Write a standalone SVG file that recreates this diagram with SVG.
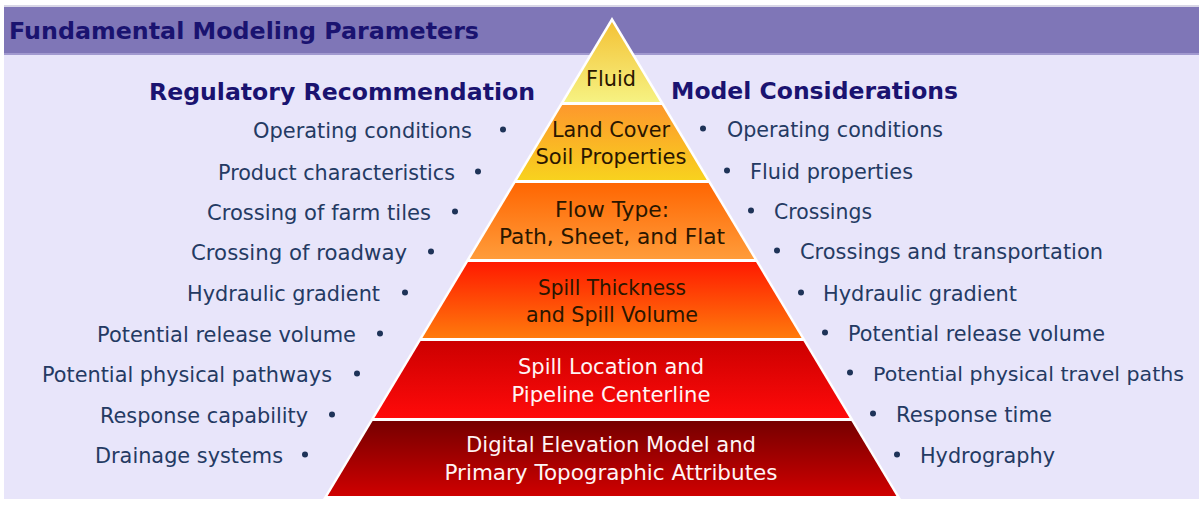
<svg xmlns="http://www.w3.org/2000/svg" width="1199" height="509" viewBox="0 0 1199 509">
<style>
.title{font-family:"DejaVu Sans","Liberation Sans",sans-serif;font-weight:bold;font-size:23px;fill:#1a1370}
.hdr{font-family:"DejaVu Sans","Liberation Sans",sans-serif;font-weight:bold;font-size:23px;fill:#1a1370}
.item{font-family:"DejaVu Sans","Liberation Sans",sans-serif;font-size:22px;fill:#243a63}
.bul{fill:#1e3358}
.pt{font-family:"DejaVu Sans","Liberation Sans",sans-serif;font-size:21px;text-anchor:middle}
.dark{fill:#2a1600}
.light{fill:#fff4f4}
</style>
<defs>
<linearGradient id="g1" x1="0" y1="0" x2="0" y2="1"><stop offset="0" stop-color="#f4c236"/><stop offset="1" stop-color="#f6f282"/></linearGradient>
<linearGradient id="g2" x1="0" y1="0" x2="0" y2="1"><stop offset="0" stop-color="#fd982c"/><stop offset="1" stop-color="#f8d21e"/></linearGradient>
<linearGradient id="g3" x1="0" y1="0" x2="0" y2="1"><stop offset="0" stop-color="#ff6602"/><stop offset="1" stop-color="#ff9c3a"/></linearGradient>
<linearGradient id="g4" x1="0" y1="0" x2="0" y2="1"><stop offset="0" stop-color="#ff1a00"/><stop offset="1" stop-color="#ff7a0c"/></linearGradient>
<linearGradient id="g5" x1="0" y1="0" x2="0" y2="1"><stop offset="0" stop-color="#cc0000"/><stop offset="1" stop-color="#ff0a0a"/></linearGradient>
<linearGradient id="g6" x1="0" y1="0" x2="0" y2="1"><stop offset="0" stop-color="#760000"/><stop offset="1" stop-color="#cf0000"/></linearGradient>
</defs>
<rect x="0" y="0" width="1199" height="509" fill="#ffffff"/>
<rect x="4" y="5" width="1195" height="494" fill="#e8e5fa"/>
<rect x="4" y="5" width="1195" height="2" fill="#d8d6e6"/>
<rect x="4" y="7" width="1195" height="46" fill="#7f76b7"/>
<rect x="4" y="53" width="1195" height="2" fill="#a199cf"/>
<g id="title"><text class="title" x="9" y="39" textLength="470" lengthAdjust="spacingAndGlyphs">Fundamental Modeling Parameters</text></g>

<g id="pyramid">
<polygon points="612,17 323,499 901,499" fill="#ffffff"/>
<g id="layer-fluid"><polygon points="612,22 564,102 660,102" fill="url(#g1)"/><text class="pt dark" x="611" y="86" textLength="50" lengthAdjust="spacingAndGlyphs">Fluid</text></g>
<g id="layer-land"><polygon points="562.2,105 661.8,105 706.8,180 517.2,180" fill="url(#g2)"/><text class="pt dark" x="611" y="137" textLength="118" lengthAdjust="spacingAndGlyphs">Land Cover</text><text class="pt dark" x="611" y="164" textLength="151" lengthAdjust="spacingAndGlyphs">Soil Properties</text></g>
<g id="layer-flow"><polygon points="515.4,183 708.6,183 754.2,259 469.8,259" fill="url(#g3)"/><text class="pt dark" x="612" y="217" textLength="114" lengthAdjust="spacingAndGlyphs">Flow Type:</text><text class="pt dark" x="612" y="244" textLength="226" lengthAdjust="spacingAndGlyphs">Path, Sheet, and Flat</text></g>
<g id="layer-thickness"><polygon points="468,262 756,262 801.6,338 422.4,338" fill="url(#g4)"/><text class="pt dark" x="612" y="295" textLength="148" lengthAdjust="spacingAndGlyphs">Spill Thickness</text><text class="pt dark" x="612" y="322" textLength="172" lengthAdjust="spacingAndGlyphs">and Spill Volume</text></g>
<g id="layer-location"><polygon points="420.6,341 803.4,341 849.6,418 374.4,418" fill="url(#g5)"/><text class="pt light" x="611" y="374" textLength="186" lengthAdjust="spacingAndGlyphs">Spill Location and</text><text class="pt light" x="611" y="402" textLength="199" lengthAdjust="spacingAndGlyphs">Pipeline Centerline</text></g>
<g id="layer-dem"><polygon points="372.6,421 851.4,421 896.4,496 327.6,496" fill="url(#g6)"/><text class="pt light" x="611" y="452" textLength="290" lengthAdjust="spacingAndGlyphs">Digital Elevation Model and</text><text class="pt light" x="611" y="480" textLength="333" lengthAdjust="spacingAndGlyphs">Primary Topographic Attributes</text></g>
</g>

<g id="regulatory">
<text class="hdr" x="149" y="100" textLength="386" lengthAdjust="spacingAndGlyphs">Regulatory Recommendation</text>
<g text-anchor="end">
<text class="item" x="472" y="138" textLength="219" lengthAdjust="spacingAndGlyphs">Operating conditions</text>
<text class="item" x="455" y="180" textLength="237" lengthAdjust="spacingAndGlyphs">Product characteristics</text>
<text class="item" x="431" y="220" textLength="224" lengthAdjust="spacingAndGlyphs">Crossing of farm tiles</text>
<text class="item" x="407" y="260" textLength="216" lengthAdjust="spacingAndGlyphs">Crossing of roadway</text>
<text class="item" x="380" y="301" textLength="193" lengthAdjust="spacingAndGlyphs">Hydraulic gradient</text>
<text class="item" x="356" y="342" textLength="259" lengthAdjust="spacingAndGlyphs">Potential release volume</text>
<text class="item" x="332" y="382" textLength="290" lengthAdjust="spacingAndGlyphs">Potential physical pathways</text>
<text class="item" x="308" y="423" textLength="208" lengthAdjust="spacingAndGlyphs">Response capability</text>
<text class="item" x="283" y="463" textLength="188" lengthAdjust="spacingAndGlyphs">Drainage systems</text>
</g>
<circle class="bul" cx="503" cy="129.5" r="3"/>
<circle class="bul" cx="478" cy="171.5" r="3"/>
<circle class="bul" cx="455" cy="211.5" r="3"/>
<circle class="bul" cx="431" cy="251.5" r="3"/>
<circle class="bul" cx="405" cy="292.5" r="3"/>
<circle class="bul" cx="380" cy="333.5" r="3"/>
<circle class="bul" cx="357" cy="373.5" r="3"/>
<circle class="bul" cx="332" cy="414.5" r="3"/>
<circle class="bul" cx="305" cy="454.5" r="3"/>
</g>

<g id="model">
<text class="hdr" x="671" y="99" textLength="287" lengthAdjust="spacingAndGlyphs">Model Considerations</text>
<text class="item" x="727" y="137" textLength="216" lengthAdjust="spacingAndGlyphs">Operating conditions</text>
<text class="item" x="750" y="179" textLength="163" lengthAdjust="spacingAndGlyphs">Fluid properties</text>
<text class="item" x="774" y="219" textLength="98" lengthAdjust="spacingAndGlyphs">Crossings</text>
<text class="item" x="800" y="259" textLength="303" lengthAdjust="spacingAndGlyphs">Crossings and transportation</text>
<text class="item" x="823" y="301" textLength="194" lengthAdjust="spacingAndGlyphs">Hydraulic gradient</text>
<text class="item" x="848" y="341" textLength="257" lengthAdjust="spacingAndGlyphs">Potential release volume</text>
<text class="item" x="873" y="381" style="font-size:20px" textLength="311" lengthAdjust="spacingAndGlyphs">Potential physical travel paths</text>
<text class="item" x="896" y="422" textLength="156" lengthAdjust="spacingAndGlyphs">Response time</text>
<text class="item" x="920" y="463" textLength="135" lengthAdjust="spacingAndGlyphs">Hydrography</text>
<circle class="bul" cx="703" cy="128.5" r="3"/>
<circle class="bul" cx="727" cy="170.5" r="3"/>
<circle class="bul" cx="751" cy="210.5" r="3"/>
<circle class="bul" cx="777" cy="250.5" r="3"/>
<circle class="bul" cx="801" cy="292.5" r="3"/>
<circle class="bul" cx="825" cy="332.5" r="3"/>
<circle class="bul" cx="850" cy="372.5" r="3"/>
<circle class="bul" cx="873" cy="413.5" r="3"/>
<circle class="bul" cx="897" cy="454.5" r="3"/>
</g>
</svg>
